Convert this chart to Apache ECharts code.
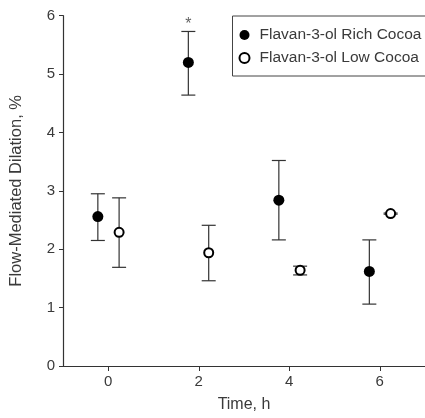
<!DOCTYPE html>
<html>
<head>
<meta charset="utf-8">
<script src="https://cdn.jsdelivr.net/npm/echarts@6/dist/echarts.min.js"></script>
<style>
  html, body { margin: 0; padding: 0; background: #fff; }
  #chart { width: 425px; height: 418px; }
</style>
</head>
<body>
<div id="chart"></div>
<script>
// time points (h) and where each group is drawn on x
const timeTicks = [0, 2, 4, 6]
const richX = [-0.23, 1.77, 3.77, 5.77]
const lowX = [0.24, 2.22, 4.24, 6.24]

// FMD, % (mean, lower and upper error bar ends)
const richMean = [2.56, 5.20, 2.84, 1.62]
const richLo = [2.15, 4.64, 2.16, 1.06]
const richHi = [2.95, 5.73, 3.52, 2.16]

const lowMean = [2.29, 1.94, 1.64, 2.61]
const lowLo = [1.69, 1.46, 1.56, 2.60]
const lowHi = [2.88, 2.41, 1.71, 2.62]

// significance marker
const sigX = [1.77]
const sigY = [5.93]

const richName = 'Flavan-3-ol Rich Cocoa'
const lowName = 'Flavan-3-ol Low Cocoa'

const textColor = '#3a3a3a'
const lineColor = '#333'
const font = 'Liberation Sans, Arial, sans-serif'

function pts(xs, ys) {
  return xs.map((x, i) => [x, ys[i]])
}
function bars(xs, lo, hi) {
  return xs.map((x, i) => [x, lo[i], hi[i]])
}

function renderErr(params, api) {
  const x = api.value(0)
  const lo = api.coord([x, api.value(1)])
  const hi = api.coord([x, api.value(2)])
  const half = 7
  const style = { stroke: lineColor, lineWidth: 1.2 }
  return {
    type: 'group',
    children: [
      { type: 'line', shape: { x1: lo[0], y1: lo[1], x2: hi[0], y2: hi[1] }, style },
      { type: 'line', shape: { x1: hi[0] - half, y1: hi[1], x2: hi[0] + half, y2: hi[1] }, style },
      { type: 'line', shape: { x1: lo[0] - half, y1: lo[1], x2: lo[0] + half, y2: lo[1] }, style }
    ]
  }
}

const myChart = echarts.init(document.getElementById('chart'))
const option = {
  animation: false,
  textStyle: { fontFamily: font },
  grid: { left: 58, right: -10, top: 15.7, bottom: 47.3 },
  legend: {
    orient: 'vertical',
    left: 232.5,
    top: 16,
    padding: [11, 40, 10, 6],
    itemGap: 7,
    itemWidth: 20,
    itemHeight: 10,
    borderColor: '#444',
    borderWidth: 1,
    textStyle: { fontSize: 15.5, color: textColor, fontFamily: font },
    data: [
      { name: richName, icon: 'circle', itemStyle: { color: '#000', borderWidth: 0 } },
      { name: lowName, icon: 'circle', itemStyle: { color: '#fff', borderColor: '#000', borderWidth: 2 } }
    ]
  },
  xAxis: {
    type: 'value',
    min: -1,
    max: 7,
    name: 'Time, h',
    nameLocation: 'middle',
    nameGap: 31,
    nameTextStyle: { fontSize: 16, color: textColor },
    splitLine: { show: false },
    axisLine: { show: true, onZero: false, lineStyle: { color: lineColor, width: 1.2 } },
    axisTick: { show: true, length: 5, customValues: timeTicks, lineStyle: { color: lineColor } },
    axisLabel: { customValues: timeTicks, fontSize: 15, color: textColor, margin: 8 }
  },
  yAxis: {
    type: 'value',
    min: 0,
    max: 6,
    interval: 1,
    name: 'Flow-Mediated Dilation, %',
    nameLocation: 'middle',
    nameGap: 38,
    nameTextStyle: { fontSize: 16.5, color: textColor },
    splitLine: { show: false },
    axisLine: { show: true, onZero: false, lineStyle: { color: lineColor, width: 1.2 } },
    axisTick: { show: true, length: 4, lineStyle: { color: lineColor } },
    axisLabel: { fontSize: 15, color: textColor, margin: 8 }
  },
  series: [
    {
      type: 'custom',
      renderItem: renderErr,
      data: bars(richX, richLo, richHi),
      z: 1,
      silent: true
    },
    {
      type: 'custom',
      renderItem: renderErr,
      data: bars(lowX, lowLo, lowHi),
      z: 1,
      silent: true
    },
    {
      name: richName,
      type: 'scatter',
      symbol: 'circle',
      symbolSize: 11,
      itemStyle: { color: '#000', opacity: 1 },
      data: pts(richX, richMean),
      z: 3
    },
    {
      name: lowName,
      type: 'scatter',
      symbol: 'circle',
      symbolSize: 9,
      itemStyle: { color: '#fff', borderColor: '#000', borderWidth: 2, opacity: 1 },
      data: pts(lowX, lowMean),
      z: 4
    },
    {
      type: 'scatter',
      symbol: 'circle',
      symbolSize: 1,
      silent: true,
      itemStyle: { color: 'rgba(0,0,0,0)' },
      label: { show: true, position: 'inside', formatter: '*', fontSize: 16, color: textColor, offset: [0, 5] },
      data: pts(sigX, sigY),
      z: 5
    }
  ]
}
myChart.setOption(option)
</script>
</body>
</html>
